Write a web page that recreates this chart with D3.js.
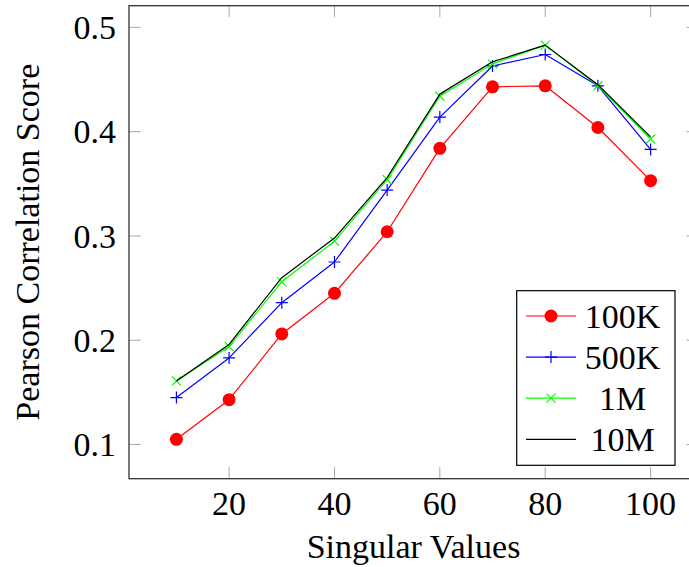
<!DOCTYPE html>
<html>
<head>
<meta charset="utf-8">
<script src="https://cdn.jsdelivr.net/npm/d3@7"></script>
<style>
  html, body { margin: 0; padding: 0; background: #fff; }
  svg { display: block; }
</style>
</head>
<body>
<svg id="chart" width="689" height="567"></svg>
<script>
// Number of singular values kept
const singularValues = [10, 20, 30, 40, 50, 60, 70, 80, 90, 100];

// Pearson correlation score per training-set size
const score100K = [0.105, 0.143, 0.206, 0.245, 0.304, 0.384, 0.443, 0.444, 0.404, 0.353];
const score500K = [0.145, 0.183, 0.236, 0.275, 0.344, 0.414, 0.463, 0.474, 0.444, 0.383];
const score1M   = [0.161, 0.194, 0.256, 0.295, 0.354, 0.434, 0.465, 0.483, 0.444, 0.393];
const score10M  = [0.161, 0.196, 0.260, 0.298, 0.356, 0.436, 0.467, 0.483, 0.445, 0.395];

const seriesNames = ["100K", "500K", "1M", "10M"];
const seriesColors = ["#ff0000", "#0000ff", "#00ff00", "#000000"];
const seriesMarkers = ["circle", "plus", "cross", "none"];

const xTicks = [20, 40, 60, 80, 100];
const yTicks = [0.1, 0.2, 0.3, 0.4, 0.5];

const xLabel = "Singular Values";
const yLabel = "Pearson Correlation Score";

const allSeries = [score100K, score500K, score1M, score10M];

const serifFont = '"Liberation Serif"';
const svg = d3.select("#chart");
const plotL = 129, plotR = 698, plotT = 5.7, plotB = 478.7;

// axis limits padded by 10% of the data range on each side
const xMin = d3.min(singularValues), xMax = d3.max(singularValues);
const yAll = allSeries.flat();
const yMin = d3.min(yAll), yMax = d3.max(yAll);
const xPad = (xMax - xMin) * 0.1, yPad = (yMax - yMin) * 0.1;

const x = d3.scaleLinear().domain([xMin - xPad, xMax + xPad]).range([plotL, plotR]);
const y = d3.scaleLinear().domain([yMin - yPad, yMax + yPad]).range([plotB, plotT]);

const tickLen = 11.5;
const tickColor = "#a8a8a8";

// inward ticks on all four sides
const g = svg.append("g");
xTicks.forEach(t => {
  g.append("line").attr("x1", x(t)).attr("x2", x(t)).attr("y1", plotB).attr("y2", plotB - tickLen)
    .attr("stroke", tickColor).attr("stroke-width", 1);
  g.append("line").attr("x1", x(t)).attr("x2", x(t)).attr("y1", plotT).attr("y2", plotT + tickLen)
    .attr("stroke", tickColor).attr("stroke-width", 1);
});
yTicks.forEach(t => {
  g.append("line").attr("x1", plotL).attr("x2", plotL + tickLen).attr("y1", y(t)).attr("y2", y(t))
    .attr("stroke", tickColor).attr("stroke-width", 1);
  g.append("line").attr("x1", plotR).attr("x2", plotR - tickLen).attr("y1", y(t)).attr("y2", y(t))
    .attr("stroke", tickColor).attr("stroke-width", 1);
});

// text helper using the serif face
function addText(sel, txt) {
  return sel.append("text").style("font-family", serifFont).style("font-size", "34px")
    .attr("fill", "#000").text(txt);
}

// tick labels
xTicks.forEach(t => {
  addText(svg, t).attr("x", x(t)).attr("y", 515).attr("text-anchor", "middle");
});
yTicks.forEach(t => {
  addText(svg, d3.format(".1f")(t)).attr("x", 116).attr("y", y(t) + 11.6).attr("text-anchor", "end");
});

// axis titles
addText(svg, xLabel).attr("x", (plotL + plotR) / 2).attr("y", 558).attr("text-anchor", "middle");
addText(svg, yLabel).attr("transform", `translate(39,${(plotT + plotB) / 2}) rotate(-90)`)
  .attr("text-anchor", "middle");

// marker drawing
function drawMarker(sel, type, color, cx, cy) {
  if (type === "circle") {
    sel.append("circle").attr("cx", cx).attr("cy", cy).attr("r", 6.5).attr("fill", color);
  } else if (type === "plus") {
    const s = 6;
    sel.append("path").attr("d", `M${cx - s},${cy}H${cx + s}M${cx},${cy - s}V${cy + s}`)
      .attr("stroke", color).attr("stroke-width", 1.2).attr("fill", "none");
  } else if (type === "cross") {
    const s = 4.5;
    sel.append("path").attr("d", `M${cx - s},${cy - s}L${cx + s},${cy + s}M${cx - s},${cy + s}L${cx + s},${cy - s}`)
      .attr("stroke", color).attr("stroke-width", 1.2).attr("fill", "none");
  }
}

// series lines and markers
const line = d3.line().x((d, i) => x(singularValues[i])).y(d => y(d));
allSeries.forEach((vals, k) => {
  const sg = svg.append("g");
  sg.append("path").datum(vals).attr("d", line).attr("fill", "none")
    .attr("stroke", seriesColors[k]).attr("stroke-width", 1.2).attr("stroke-linejoin", "round");
  vals.forEach((v, i) => drawMarker(sg, seriesMarkers[k], seriesColors[k], x(singularValues[i]), y(v)));
});

// frame
svg.append("rect").attr("x", plotL).attr("y", plotT).attr("width", plotR - plotL).attr("height", plotB - plotT)
  .attr("fill", "none").attr("stroke", "#333").attr("stroke-width", 1.3);

// legend
const lg = svg.append("g");
const lx = 516.7, ly = 290.7, lw = 158.3, lh = 174.6;
lg.append("rect").attr("x", lx).attr("y", ly).attr("width", lw).attr("height", lh)
  .attr("fill", "#fff").attr("stroke", "#000").attr("stroke-width", 1.2);
seriesNames.forEach((name, k) => {
  const cy = 316 + k * 41.1;
  lg.append("line").attr("x1", 526).attr("x2", 576).attr("y1", cy).attr("y2", cy)
    .attr("stroke", seriesColors[k]).attr("stroke-width", 1.2);
  drawMarker(lg, seriesMarkers[k], seriesColors[k], 551, cy);
  addText(lg, name).attr("x", 622.5).attr("y", cy + 11.6).attr("text-anchor", "middle");
});
</script>
</body>
</html>
